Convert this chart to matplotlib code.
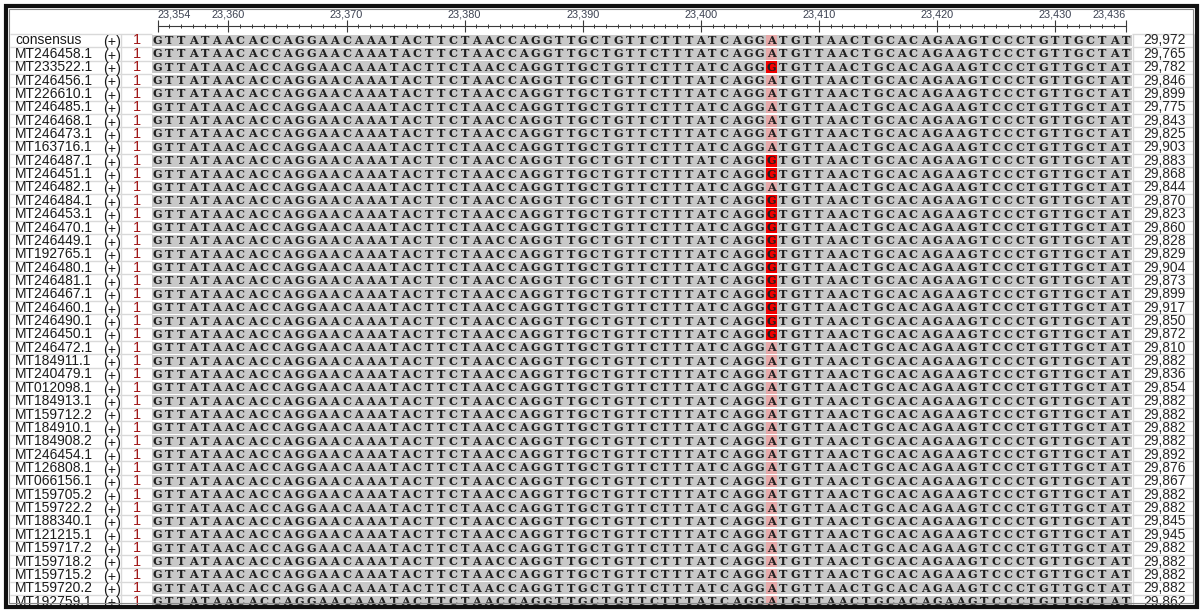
import matplotlib
matplotlib.use("Agg")
import matplotlib.pyplot as plt
from matplotlib.patches import Rectangle
import numpy as np

# alignment window
START = 23354
CONSENSUS = "GTTATAACACCAGGAACAAATACTTCTAACCAGGTTGCTGTTCTTTATCAGGATGTTAACTGCACAGAAGTCCCTGTTGCTAT"
SITE = 23406

accessions = [
    "consensus", "MT246458.1", "MT233522.1", "MT246456.1", "MT226610.1", "MT246485.1",
    "MT246468.1", "MT246473.1", "MT163716.1", "MT246487.1", "MT246451.1", "MT246482.1",
    "MT246484.1", "MT246453.1", "MT246470.1", "MT246449.1", "MT192765.1", "MT246480.1",
    "MT246481.1", "MT246467.1", "MT246460.1", "MT246490.1", "MT246450.1", "MT246472.1",
    "MT184911.1", "MT240479.1", "MT012098.1", "MT184913.1", "MT159712.2", "MT184910.1",
    "MT184908.2", "MT246454.1", "MT126808.1", "MT066156.1", "MT159705.2", "MT159722.2",
    "MT188340.1", "MT121215.1", "MT159717.2", "MT159718.2", "MT159715.2", "MT159720.2",
    "MT192759.1",
]
lengths = [
    29972, 29765, 29782, 29846, 29899, 29775, 29843, 29825, 29903, 29883, 29868, 29844,
    29870, 29823, 29860, 29828, 29829, 29904, 29873, 29899, 29917, 29850, 29872, 29810,
    29882, 29836, 29854, 29882, 29882, 29882, 29882, 29892, 29876, 29867, 29882, 29882,
    29845, 29945, 29882, 29882, 29882, 29882, 29862,
]
# base carried by each sequence at SITE
site_bases = "AAGAAAAAA" + "GGAGGGGGGGGGGG" + "A" * 20
strands = ["(+)"] * len(accessions)
starts = [1] * len(accessions)
ruler_ticks = [23354, 23360, 23370, 23380, 23390, 23400, 23410, 23420, 23430, 23436]

W, H = 1200, 611
ROW_TOP, ROW_H = 33.8, 13.36
SEQ_X0, SEQ_X1, BOTTOM = 151.7, 1131.7, 606

GRAY = "#c8c8c8"
PINK = "#e6a9a9"
RED = "#f20000"
LETTER = "#202020"
LINE = "#d9d9d9"


def fig_rect(x0, y0, x1, y1):
    return [x0 / W, 1 - y1 / H, (x1 - x0) / W, (y1 - y0) / H]


seqs = []
for b in site_bases:
    s = list(CONSENSUS)
    s[SITE - START] = b
    seqs.append("".join(s))
n_rows = len(seqs)
n_cols = len(CONSENSUS)
positions = START + np.arange(n_cols)
rows = np.arange(n_rows)
variable = [j for j in range(n_cols) if any(s[j] != CONSENSUS[j] for s in seqs)]
y_end = (BOTTOM - ROW_TOP) / ROW_H

fig = plt.figure(figsize=(W / 100, H / 100), dpi=100)
fig.patch.set_facecolor("white")

# side tables: x in pixels, y in row units, clipped at the window bottom
ax_t = fig.add_axes(fig_rect(9, ROW_TOP - 1, 1195, BOTTOM))
ax_t.set_xlim(9, 1195)
ax_t.set_ylim(y_end, -1 / ROW_H)
ax_t.axis("off")
ax_t.hlines(np.arange(n_rows + 1), 10, SEQ_X0, color=LINE, lw=1)
ax_t.hlines(np.arange(n_rows + 1), SEQ_X1, 1194, color=LINE, lw=1)
ax_t.vlines([121], 0, y_end, color=LINE, lw=1)
ax_t.vlines([1133.5, 1194], 0, y_end, color=LINE, lw=1)

for i in rows:
    yc = i + 0.5
    ax_t.text(15, yc, accessions[i], ha="left", va="center", fontsize=10,
              family="Liberation Sans", color="#1a1a1a", clip_on=True)
    ax_t.text(112, yc + 0.14, strands[i], ha="center", va="center", fontsize=10.2,
              family="Liberation Sans", color="#1a1a1a", clip_on=True)
    ax_t.text(137, yc, str(starts[i]), ha="center", va="center", fontsize=10.5,
              family="Liberation Sans", color="#a11818", clip_on=True)
    ax_t.text(1186, yc, f"{lengths[i]:,}", ha="right", va="center", fontsize=10,
              family="Liberation Sans", color="#262626", clip_on=True)

# sequence grid
ax_s = fig.add_axes(fig_rect(SEQ_X0, ROW_TOP, SEQ_X1, BOTTOM))
ax_s.set_xlim(START - 0.5, START + n_cols - 0.5)
ax_s.set_ylim(y_end, 0)
ax_s.axis("off")
ax_s.barh(rows + 0.5, n_cols, left=START - 0.5, height=0.88, color=GRAY, lw=0)
for j in variable:
    for i in rows:
        c = PINK if seqs[i][j] == CONSENSUS[j] else RED
        ax_s.bar(positions[j], 0.88, bottom=i + 0.06, width=1, color=c, lw=0)
for i in rows:
    for j in range(n_cols):
        ax_s.text(positions[j], i + 0.5, seqs[i][j], ha="center", va="center",
                  fontsize=8.1, family="DejaVu Serif", fontweight="bold", color=LETTER,
                  clip_on=True)

# ruler
ax_r = fig.add_axes(fig_rect(SEQ_X0, 8, SEQ_X1, ROW_TOP))
ax_r.set_xlim(START - 0.5, START + n_cols - 0.5)
ax_r.set_ylim(0, 1)
ax_r.patch.set_alpha(0)
for side in ["left", "right", "bottom"]:
    ax_r.spines[side].set_visible(False)
ax_r.spines["top"].set_position(("axes", 0.30))
ax_r.spines["top"].set_bounds(START, START + n_cols - 1)
ax_r.spines["top"].set_color("#3a3a3a")
ax_r.spines["top"].set_linewidth(0.8)
ax_r.xaxis.set_ticks_position("top")
ax_r.set_xticks(ruler_ticks)
ax_r.set_xticks(positions, minor=True)
ax_r.set_xticklabels([f"{t:,}" for t in ruler_ticks], family="Liberation Sans")
ax_r.set_yticks([])
ax_r.tick_params(axis="x", which="major", direction="inout", length=8, width=0.8,
                 pad=0.5, labelsize=7.8, color="#3a3a3a", labelcolor="#3a4050")
ax_r.tick_params(axis="x", which="minor", direction="inout", length=3, width=0.7,
                 color="#3a3a3a")
labels = ax_r.get_xticklabels()
labels[0].set_ha("left")
labels[-1].set_ha("right")

# window frame
ax_f = fig.add_axes([0, 0, 1, 1])
ax_f.set_xlim(0, W)
ax_f.set_ylim(H, 0)
ax_f.axis("off")
ax_f.add_patch(Rectangle((5.5, 5.5), W - 9, H - 10, fill=False, ec="#111111", lw=3))
ax_f.add_patch(Rectangle((8.8, 8.8), W - 15.6, H - 16.6, fill=False, ec="#8a8a8a", lw=0.8))

fig.savefig("out.png", dpi=100, facecolor="white")
